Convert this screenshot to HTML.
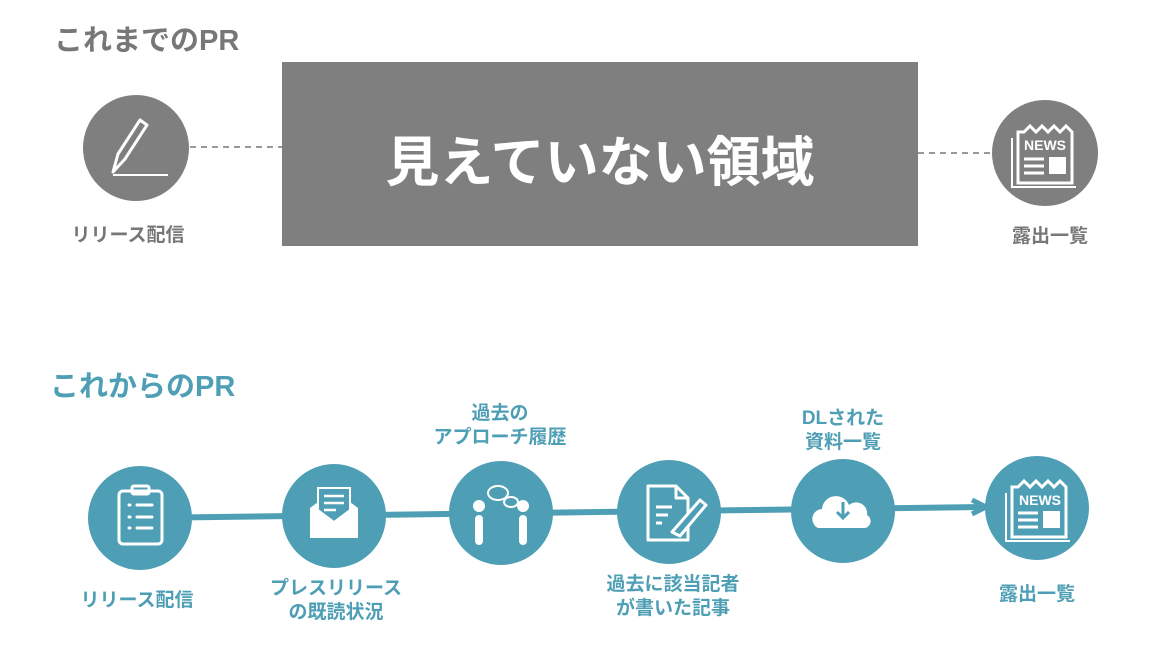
<!DOCTYPE html>
<html><head><meta charset="utf-8"><style>
body{margin:0;width:1161px;height:649px;background:#fff;overflow:hidden;font-family:"Liberation Sans","Noto Sans CJK JP",sans-serif;font-weight:bold}
.t{position:absolute;white-space:nowrap;text-align:center}
</style></head><body>
<svg width="1161" height="649" style="position:absolute;left:0;top:0">
<line x1="190" y1="147" x2="282" y2="147" stroke="#999" stroke-width="2" stroke-dasharray="6,5"/>
<line x1="918" y1="153" x2="993" y2="153" stroke="#999" stroke-width="2" stroke-dasharray="6,5"/>
<rect x="282" y="62" width="636" height="184" fill="#7f7f7f"/>
<circle cx="136" cy="148" r="53" fill="#7f7f7f"/>
<g stroke="#fff" stroke-width="3" fill="none" stroke-linejoin="round">
<path d="M113 172 L118 154 L140 120 L147 125 L125 159 Z"/><line x1="113" y1="175" x2="168" y2="175" stroke-width="2"/>
</g>
<circle cx="1045" cy="153" r="53" fill="#7f7f7f"/>
<g stroke="#fff" stroke-width="3" fill="none">
<path d="M1018 132 L1018 183 L1072 183 L1072 132 L1066 126 L1060 132 L1054 126 L1048 132 L1042 126 L1036 132 L1030 126 L1024 132Z"/>
<path d="M1012 138 L1012 187 L1076 187" stroke-width="2"/>
<line x1="1024" y1="159" x2="1044" y2="159"/><line x1="1024" y1="166" x2="1044" y2="166"/><line x1="1024" y1="173" x2="1044" y2="173"/>
</g>
<rect x="1049" y="157" width="17" height="17" fill="#fff"/>
<text x="1045" y="150" fill="#fff" font-size="14" font-weight="bold" text-anchor="middle" font-family="Liberation Sans">NEWS</text>

<line x1="140" y1="518" x2="983" y2="507" stroke="#4e9fb5" stroke-width="6"/>
<path d="M972 500 L986 507 L972 514" stroke="#4e9fb5" stroke-width="5" fill="none"/>
<g fill="#4e9fb5">
<circle cx="140" cy="518" r="52"/><circle cx="334" cy="516" r="52"/><circle cx="501" cy="513" r="52"/>
<circle cx="669" cy="512" r="52"/><circle cx="843" cy="511" r="52"/><circle cx="1037" cy="508" r="52"/>
</g>
<g stroke="#fff" stroke-width="3" fill="none" stroke-linecap="round">
<rect x="119" y="491" width="43" height="53" rx="4"/><rect x="132" y="486" width="17" height="8" rx="2"/>
<line x1="137" y1="505" x2="152" y2="505"/><line x1="137" y1="517" x2="152" y2="517"/><line x1="137" y1="528" x2="152" y2="528"/>
<line x1="129" y1="505" x2="130" y2="505"/><line x1="129" y1="517" x2="130" y2="517"/><line x1="129" y1="528" x2="130" y2="528"/>
</g>
<path d="M310 508 L334 490 L358 508 L358 538 L310 538Z" fill="#fff"/>
<path d="M318 510 L318 488 L350 488 L350 510 L334 522Z" fill="#4e9fb5" stroke="#fff" stroke-width="2"/>
<g stroke="#fff" stroke-width="2.5"><line x1="324" y1="496" x2="344" y2="496"/><line x1="324" y1="503" x2="344" y2="503"/><line x1="324" y1="510" x2="336" y2="510"/></g>
<g fill="#fff"><circle cx="479" cy="506" r="6"/><rect x="475" y="515" width="8" height="30" rx="4"/>
<circle cx="523" cy="506" r="6"/><rect x="519" y="515" width="8" height="30" rx="4"/></g>
<g stroke="#fff" stroke-width="2" fill="none"><ellipse cx="498" cy="493" rx="10" ry="7"/><ellipse cx="511" cy="502" rx="7" ry="5"/></g>
<g stroke="#fff" stroke-width="3" fill="none" stroke-linejoin="round">
<path d="M648 486 L676 486 L688 498 L688 540 L648 540Z"/><path d="M676 486 L676 498 L688 498"/>
<line x1="656" y1="507" x2="672" y2="507"/><line x1="656" y1="515" x2="668" y2="515"/><line x1="656" y1="523" x2="662" y2="523"/>
<path d="M672 532 L700 500 L706 505 L680 536 Z" fill="#4e9fb5"/></g>
<path d="M818 528 a10 10 0 0 1 4 -19 a14 14 0 0 1 27 -4 a11 11 0 0 1 18 10 a7 7 0 0 1 -2 13 Z" fill="#fff"/>
<path d="M843 502 L843 516 M837 512 L843 518 L849 512" stroke="#4e9fb5" stroke-width="3" fill="none"/>
<g stroke="#fff" stroke-width="3" fill="none">
<path d="M1012 487 L1012 537 L1066 537 L1066 487 L1060 481 L1054 487 L1048 481 L1042 487 L1036 481 L1030 487 L1024 481 L1018 487Z"/>
<path d="M1006 493 L1006 541 L1070 541" stroke-width="2"/>
<line x1="1018" y1="513" x2="1038" y2="513"/><line x1="1018" y1="520" x2="1038" y2="520"/><line x1="1018" y1="527" x2="1038" y2="527"/>
</g>
<rect x="1043" y="511" width="17" height="17" fill="#fff"/>
<text x="1040" y="505" fill="#fff" font-size="14" font-weight="bold" text-anchor="middle" font-family="Liberation Sans">NEWS</text>
</svg>
<div class="t" style="left:54px;top:17px;font-size:29px;color:#777">これまでのPR</div>
<div class="t" style="left:282px;width:636px;top:118px;font-size:54px;color:#fff">見えていない領域</div>
<div class="t" style="left:58px;width:140px;top:220px;font-size:19px;color:#777">リリース配信</div>
<div class="t" style="left:995px;width:110px;top:221px;font-size:19px;color:#777">露出一覧</div>
<div class="t" style="left:50px;top:363px;font-size:29px;color:#4e9fb5">これからのPR</div>
<div class="t" style="left:67px;width:140px;top:585px;font-size:19px;color:#4e9fb5">リリース配信</div>
<div class="t" style="left:256px;width:160px;top:577px;font-size:19px;line-height:24px;color:#4e9fb5">プレスリリース<br>の既読状況</div>
<div class="t" style="left:420px;width:160px;top:402px;font-size:19px;line-height:24px;color:#4e9fb5">過去の<br>アプローチ履歴</div>
<div class="t" style="left:593px;width:160px;top:573px;font-size:19px;line-height:24px;color:#4e9fb5">過去に該当記者<br>が書いた記事</div>
<div class="t" style="left:763px;width:160px;top:407px;font-size:19px;line-height:24px;color:#4e9fb5">DLされた<br>資料一覧</div>
<div class="t" style="left:982px;width:110px;top:579px;font-size:19px;color:#4e9fb5">露出一覧</div>
</body></html>
